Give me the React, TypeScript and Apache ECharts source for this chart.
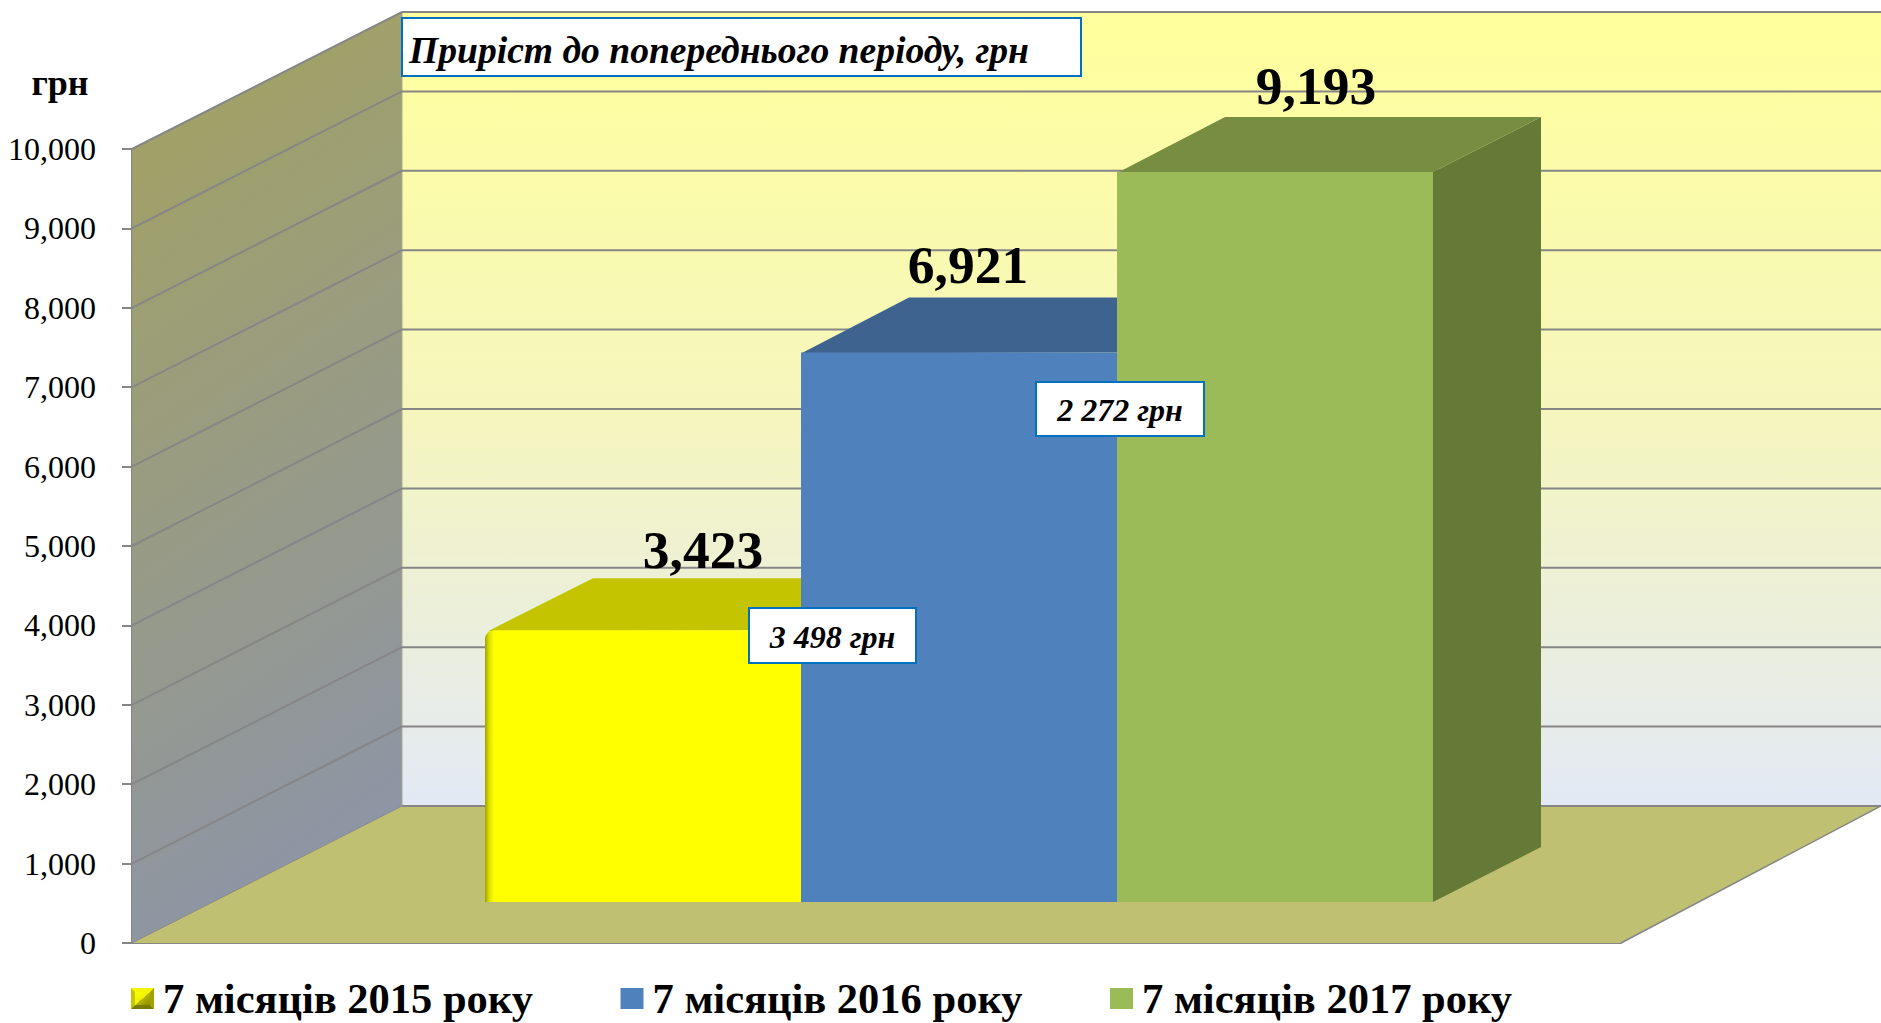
import React, { useEffect, useRef } from "react";
import * as echarts from "echarts";

const seriesNames = ["7 місяців 2015 року", "7 місяців 2016 року", "7 місяців 2017 року"];
const seriesValues = [3423, 6921, 9193];
const yTicks = [0, 1000, 2000, 3000, 4000, 5000, 6000, 7000, 8000, 9000, 10000];
const FRONT = ["#ffff00", "#4f81bd", "#9bbb59"];
const TOP = ["#c4c400", "#3e638f", "#778e42"];
const SIDE = ["#9c9c00", "#33527a", "#657a37"];
const LABEL_SHIFT = [[60, -25], [9, -32], [41, -31]];
const SERIF = '"Liberation Serif"';
const GRID = "#868686";

const DX = 270, DY = 137, DX_R = 260;
const BAR_DX = 108, BAR_DY = 55;

const wallsItem = (params: any, api: any) => {
  const v = api.value(1);
  const [, y] = api.coord([0, v]);
  const cs = params.coordSys;
  const x0 = cs.x, x1 = cs.x + cs.width, W = api.getWidth();
  const children: any[] = [];
  if (params.dataIndex === 0) {
    const yTop = api.coord([0, 10000])[1];
    children.push(
      {
        type: "polygon",
        shape: { points: [[x0 + DX, yTop - DY], [W, yTop - DY], [W, y - DY], [x0 + DX, y - DY]] },
        style: {
          fill: { type: "linear", x: 0, y: 0, x2: 0, y2: 1, colorStops: [
            { offset: 0, color: "#ffff9c" }, { offset: 0.5, color: "#f5f6bd" }, { offset: 1, color: "#e3e9f5" },
          ] },
        },
      },
      {
        type: "polygon",
        shape: { points: [[x0, y], [x0, yTop], [x0 + DX, yTop - DY], [x0 + DX, y - DY]] },
        style: {
          fill: { type: "linear", x: 0, y: 0, x2: 0.2, y2: 1, colorStops: [
            { offset: 0, color: "#a4a35d" }, { offset: 1, color: "#8e95a4" },
          ] },
        },
      },
      {
        type: "polygon",
        shape: { points: [[x0, y], [x1, y], [x1 + DX_R, y - DY], [x0 + DX, y - DY]] },
        style: { fill: "#c0c073" },
      },
      { type: "line", shape: { x1: x1, y1: y, x2: x1 + DX_R, y2: y - DY }, style: { stroke: GRID, lineWidth: 1.5 } },
      { type: "line", shape: { x1: x0, y1: y, x2: x0 + DX, y2: y - DY }, style: { stroke: GRID, lineWidth: 1 } },
      { type: "line", shape: { x1: x0 + DX, y1: yTop - DY, x2: x0 + DX, y2: y - DY }, style: { stroke: "#a9a98f", lineWidth: 1 } },
    );
  }
  if (v > 0) {
    children.push({
      type: "polyline",
      shape: { points: [[x0, y], [x0 + DX, y - DY], [W, y - DY]] },
      style: { stroke: GRID, lineWidth: 2, fill: null },
    });
  } else {
    children.push({
      type: "line",
      shape: { x1: x0 + DX, y1: y - DY, x2: W, y2: y - DY },
      style: { stroke: GRID, lineWidth: 2 },
    });
  }
  return { type: "group", children };
};

const barItem = (params: any, api: any) => {
  const i = api.value(0);
  const v = api.value(1);
  const [cx, yTop] = api.coord([i, v]);
  const [, yBase] = api.coord([i, 0]);
  const w = api.size([1, 0])[0];
  const x0 = cx - w / 2, x1 = cx + w / 2;
  const s = params.seriesIndex - 1;
  const bevel = s === 0 ? 3 : 0;
  const front: any =
    s === 0
      ? {
          type: "rect",
          shape: { x: x0, y: yTop, width: w, height: yBase - yTop, r: [9, 0, 0, 0] },
          style: {
            fill: { type: "linear", x: 0, y: 0, x2: 1, y2: 0, colorStops: [
              { offset: 0, color: "#a0a000" }, { offset: 0.012, color: "#dada00" },
              { offset: 0.028, color: "#ffff00" }, { offset: 1, color: "#ffff00" },
            ] },
          },
        }
      : {
          type: "polygon",
          shape: { points: [[x0, yTop], [x1, yTop], [x1, yBase], [x0, yBase]] },
          style: { fill: FRONT[s] },
        };
  return {
    type: "group",
    children: [
      {
        type: "polygon",
        shape: { points: [[x1, yTop], [x1 + BAR_DX, yTop - BAR_DY], [x1 + BAR_DX, yBase - BAR_DY], [x1, yBase]] },
        style: { fill: SIDE[s] },
      },
      {
        type: "polygon",
        shape: { points: [[x0 + bevel, yTop + 1], [x0 + BAR_DX, yTop - BAR_DY + bevel], [x1 + BAR_DX, yTop - BAR_DY + bevel], [x1, yTop]] },
        style: { fill: TOP[s] },
      },
      front,
      {
        type: "text",
        style: {
          text: v.toLocaleString("en-US"),
          x: cx + LABEL_SHIFT[s][0],
          y: yTop - BAR_DY + LABEL_SHIFT[s][1],
          align: "center",
          verticalAlign: "middle",
          font: `bold 53.5px ${SERIF}`,
          fill: "#000",
        },
      },
    ],
  };
};

const note = (x: number, y: number, w: number, h: number, text: string, size: number, tx?: number, dy = 1) => [
  { type: "rect", z: 100, shape: { x, y, width: w, height: h }, style: { fill: "#fff", stroke: "#0070c0", lineWidth: 2 } },
  {
    type: "text", z: 101,
    style: {
      text, x: tx ?? x + w / 2, y: y + h / 2 + dy,
      align: tx ? "left" : "center", verticalAlign: "middle",
      font: `italic bold ${size}px ${SERIF}`, fill: "#000",
    },
  },
];

// Bevel facets laid over the first legend swatch
const swatchBevel = (x: number, y: number, w: number, h: number, b: number) => {
  const X = x + w, Y = y + h;
  const facet = (points: number[][], fill: any) => ({ type: "polygon", z: 100, shape: { points }, style: { fill } });
  return [
    facet([[x, y], [X, y], [X - b, y + b], [x + b, y + b]], "#f4f400"),
    facet([[x, y], [x + b, y + b], [x + b, Y - b], [x, Y]], "#c6c600"),
    facet([[X, y], [X, Y], [X - b, Y - b], [X - b, y + b]], "#a2a200"),
    facet([[x, Y], [x + b, Y - b], [X - b, Y - b], [X, Y]], "#7a7a00"),
    facet([[x + b, y + b], [X - b, y + b], [X - b, Y - b], [x + b, Y - b]], {
      type: "linear", x: 0, y: 0, x2: 1, y2: 1, colorStops: [
        { offset: 0, color: "#ffff00" }, { offset: 0.5, color: "#f0f000" },
        { offset: 0.51, color: "#b5b500" }, { offset: 1, color: "#8c8c00" },
      ],
    }),
  ];
};

export default function App() {
  const ref = useRef<HTMLDivElement>(null);
  useEffect(() => {
    document.body.style.margin = "0";
    const chart = echarts.init(ref.current!, undefined, { renderer: "svg" });
    chart.setOption({
      animation: false,
      backgroundColor: "#ffffff",
      grid: [
        { left: 132, top: 149, width: 1489, height: 794 },
        { left: 485, top: 108, width: 948, height: 794 },
      ],
      xAxis: [
        {
          type: "category", gridIndex: 0, data: seriesNames,
          axisLine: { show: true, lineStyle: { color: GRID, width: 2 } },
          axisTick: { show: false }, axisLabel: { show: false },
        },
        { type: "category", gridIndex: 1, data: seriesNames, show: false },
      ],
      yAxis: [
        {
          type: "value", gridIndex: 0, min: 0, max: 10000, interval: 1000,
          axisLine: { show: true, lineStyle: { color: GRID, width: 2 } },
          axisTick: { show: true, length: 10, lineStyle: { color: GRID, width: 2 } },
          splitLine: { show: false },
          axisLabel: {
            margin: 36, color: "#000", fontFamily: SERIF, fontSize: 32,
            formatter: (v: number) => v.toLocaleString("en-US"),
          },
        },
        { type: "value", gridIndex: 1, min: 0, max: 10000, interval: 1000, show: false },
      ],
      legend: {
        left: 131, top: 977, padding: 0, itemGap: 87.5, itemWidth: 23, itemHeight: 21, icon: "rect",
        selectedMode: false,
        data: seriesNames.map((name, i) => ({ name, itemStyle: { color: FRONT[i] } })),
        textStyle: { fontFamily: SERIF, fontWeight: "bold", fontSize: 42.5, color: "#000", padding: [0, 0, 0, 4] },
      },
      graphic: [
        ...note(402, 18, 679, 58, "Приріст до попереднього періоду, грн", 37.6, 409, 3),
        ...note(749, 608, 167, 55, "3 498 грн", 32),
        ...note(1036, 382, 168, 54, "2 272 грн", 32),
        {
          type: "text", z: 101,
          style: { text: "грн", x: 60, y: 83, align: "center", verticalAlign: "middle", font: `bold 36px ${SERIF}`, fill: "#000" },
        },
        ...swatchBevel(131, 988, 23, 21, 4),
      ],
      series: [
        {
          type: "custom", name: "walls", xAxisIndex: 0, yAxisIndex: 0, silent: true, z: 1,
          renderItem: wallsItem, encode: { x: 0, y: 1 },
          data: yTicks.map((v) => [0, v]),
        },
        ...seriesNames.map((name, i) => ({
          type: "custom", name, xAxisIndex: 1, yAxisIndex: 1, z: 2 + i,
          renderItem: barItem, encode: { x: 0, y: 1 },
          itemStyle: { color: FRONT[i] },
          data: [[i, seriesValues[i]]],
        })),
      ],
    });
    return () => chart.dispose();
  }, []);
  return <div ref={ref} style={{ position: "fixed", left: 0, top: 0, width: 1881, height: 1023 }} />;
}
